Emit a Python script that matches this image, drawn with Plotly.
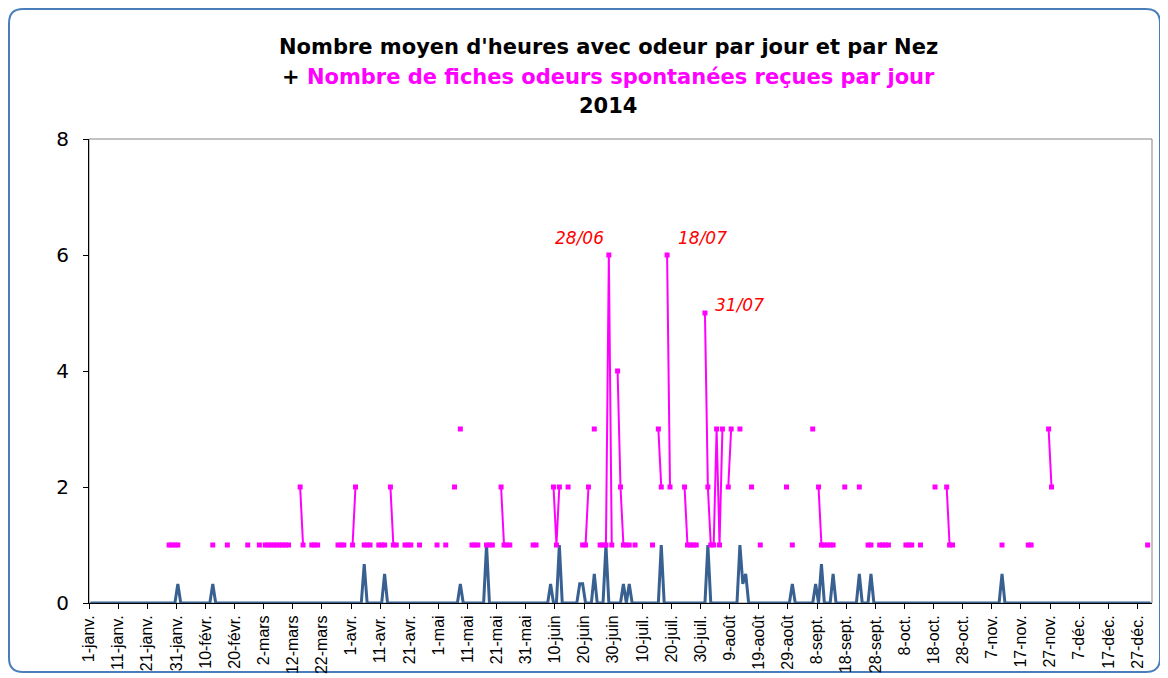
import plotly.graph_objects as go
import pandas as pd

# ---------------- data ----------------
year_start = "2014-01-01"
n_days = 365

# Nombre moyen d'heures avec odeur par jour et par Nez (days not listed = 0)
nez_days = [30, 42, 94, 101, 127, 136, 158, 161, 168, 169, 173, 177, 183, 185,
            196, 212, 223, 224, 225, 241, 249, 251, 255, 264, 268, 313]
nez_values = [0.33, 0.33, 0.67, 0.5, 0.33, 1, 0.33, 1, 0.33, 0.33, 0.5, 1, 0.33, 0.33,
              1, 1, 1, 0.33, 0.5, 0.33, 0.33, 0.67, 0.5, 0.5, 0.5, 0.5]

# Nombre de fiches odeurs spontanées reçues par jour (days not listed = no data)
fiches_days = [27, 28, 29, 30, 42, 47, 54, 58,
               60, 61, 62, 63, 64, 65, 66, 67, 68,
               72, 73, 76, 77, 78, 85, 86, 87, 90, 91, 94, 95, 96,
               99, 100, 101, 103, 104, 105, 108, 109, 110, 113, 119, 122,
               125, 127, 131, 132, 133, 136, 137, 138, 141, 142, 143, 144,
               152, 153, 159, 160, 161, 164, 169, 170, 171, 173,
               175, 176, 177, 178, 179, 181, 182, 183, 184, 185, 187,
               193, 195, 196, 198, 199, 204, 205, 206, 207, 208,
               211, 212, 213, 214, 215, 216, 217, 219, 220, 223, 227, 230,
               239, 241, 248, 250, 251, 252, 253, 254, 255, 259, 264,
               267, 268, 271, 272, 273, 274, 280, 281, 282, 285, 290,
               294, 295, 296, 313, 322, 323, 329, 330, 363]
fiches_values = [1, 1, 1, 1, 1, 1, 1, 1,
                 1, 1, 1, 1, 1, 1, 1, 1, 1,
                 2, 1, 1, 1, 1, 1, 1, 1, 1, 2, 1, 1, 1,
                 1, 1, 1, 2, 1, 1, 1, 1, 1, 1, 1, 1,
                 2, 3, 1, 1, 1, 1, 1, 1, 2, 1, 1, 1,
                 1, 1, 2, 1, 2, 2, 1, 1, 2, 3,
                 1, 1, 1, 6, 1, 4, 2, 1, 1, 1, 1,
                 1, 3, 2, 6, 2, 2, 1, 1, 1, 1,
                 5, 2, 1, 1, 3, 1, 3, 2, 3, 3, 2, 1,
                 2, 1, 3, 2, 1, 1, 1, 1, 1, 2, 2,
                 1, 1, 1, 1, 1, 1, 1, 1, 1, 1, 2,
                 2, 1, 1, 1, 1, 1, 3, 2, 1]

tick_labels = ["1-janv.", "11-janv.", "21-janv.", "31-janv.", "10-févr.", "20-févr.",
               "2-mars", "12-mars", "22-mars", "1-avr.", "11-avr.", "21-avr.",
               "1-mai", "11-mai", "21-mai", "31-mai", "10-juin", "20-juin", "30-juin",
               "10-juil.", "20-juil.", "30-juil.", "9-août", "19-août", "29-août",
               "8-sept.", "18-sept.", "28-sept.", "8-oct.", "18-oct.", "28-oct.",
               "7-nov.", "17-nov.", "27-nov.", "7-déc.", "17-déc.", "27-déc."]

# labelled peaks (day index, text)
peak_days = [178, 198, 211]
peak_labels = ["28/06", "18/07", "31/07"]

title_line1 = "Nombre moyen d'heures avec odeur par jour et par Nez"
title_line2 = "Nombre de fiches odeurs spontanées reçues par jour"
title_line3 = "2014"

# ---------------- build series ----------------
dates = pd.date_range(year_start, periods=n_days, freq="D")
nez = [0.0] * n_days
for d, v in zip(nez_days, nez_values):
    nez[d] = v
fiches = [None] * n_days
for d, v in zip(fiches_days, fiches_values):
    fiches[d] = v

BLUE = "#386192"
PINK = "#FF00FF"
DAY_MS = 86400000

fig = go.Figure()
fig.add_trace(go.Scatter(
    x=dates, y=nez, mode="lines", xperiod=DAY_MS, xperiodalignment="middle",
    line=dict(color=BLUE, width=3), name="Nez", showlegend=False))
fig.add_trace(go.Scatter(
    x=dates, y=fiches, mode="lines+markers", xperiod=DAY_MS, xperiodalignment="middle",
    line=dict(color=PINK, width=2), marker=dict(symbol="square", size=5, color=PINK),
    connectgaps=False, name="Fiches", showlegend=False))

# geometry: page body adds an 8px offset, so the figure is 8px smaller
OFF = 8
W, H = 1168 - OFF, 678 - OFF
L, R, T, B = 89, 1152, 139, 603          # plot area in screen pixels
def px(xp):
    return (xp - L) / (R - L)
def py(yp):
    return (B - yp) / (B - T)

annotations = []
for d, lab in zip(peak_days, peak_labels):
    val = fiches[d]
    if lab == "28/06":
        xa, xs, ys = "right", -3, 5
    elif lab == "18/07":
        xa, xs, ys = "left", 9, 5
    else:
        xa, xs, ys = "left", 8, -4
    annotations.append(dict(
        x=dates[d] + pd.Timedelta(hours=12), y=val, xref="x", yref="y",
        text=lab, showarrow=False, xanchor=xa, yanchor="bottom", xshift=xs, yshift=ys,
        font=dict(family="DejaVu Sans", size=17, color="#FF0000", style="italic")))

tfont = dict(family="DejaVu Sans", size=21, color="black")
annotations.append(dict(x=px(608), y=py(47), xref="paper", yref="paper", showarrow=False,
                        text="<b>" + title_line1 + "</b>", font=tfont, yanchor="middle"))
annotations.append(dict(x=px(608), y=py(77), xref="paper", yref="paper", showarrow=False,
                        text="<b>+ <span style='color:" + PINK + "'>" + title_line2 + "</span></b>",
                        font=tfont, yanchor="middle"))
annotations.append(dict(x=px(608), y=py(106), xref="paper", yref="paper", showarrow=False,
                        text="<b>" + title_line3 + "</b>", font=tfont, yanchor="middle"))

# outer rounded frame (screen pixels)
fl, ft, fr, fb, rad = 9, 9, 1160, 672, 14
path = (f"M {px(fl+rad)} {py(ft)} L {px(fr-rad)} {py(ft)} Q {px(fr)} {py(ft)} {px(fr)} {py(ft+rad)} "
        f"L {px(fr)} {py(fb-rad)} Q {px(fr)} {py(fb)} {px(fr-rad)} {py(fb)} "
        f"L {px(fl+rad)} {py(fb)} Q {px(fl)} {py(fb)} {px(fl)} {py(fb-rad)} "
        f"L {px(fl)} {py(ft+rad)} Q {px(fl)} {py(ft)} {px(fl+rad)} {py(ft)} Z")

shapes = [
    dict(type="path", path=path, xref="paper", yref="paper",
         line=dict(color="#4A7EBB", width=2), layer="below"),
    dict(type="rect", x0=0, x1=1, y0=0, y1=1, xref="paper", yref="paper",
         line=dict(color="#868686", width=1), layer="below"),
]

fig.update_layout(
    width=W, height=H,
    margin=dict(l=L - OFF, r=W - (R - OFF), t=T - OFF, b=H - (B - OFF), pad=0, autoexpand=False),
    paper_bgcolor="white", plot_bgcolor="white",
    annotations=annotations, shapes=shapes,
    font=dict(family="Arial, Liberation Sans", color="black"),
    xaxis=dict(type="date", range=[dates[0], dates[-1] + pd.Timedelta(days=1)],
               tickvals=list(dates[::10]), ticktext=tick_labels, tickangle=-90,
               ticks="outside", ticklen=5, tickcolor="black", tickwidth=1, automargin=False,
               showline=True, linecolor="black", linewidth=1, showgrid=False, zeroline=False,
               tickfont=dict(family="Arial, Liberation Sans", size=16, color="black")),
    yaxis=dict(range=[0, 8], dtick=2, tick0=0, ticks="outside", ticklen=5, tickcolor="black",
               showline=True, linecolor="black", linewidth=1, showgrid=False, zeroline=False,
               ticklabelstandoff=10, automargin=False,
               tickfont=dict(family="DejaVu Sans", size=20, color="black")),
)

fig.write_html("out.html")
